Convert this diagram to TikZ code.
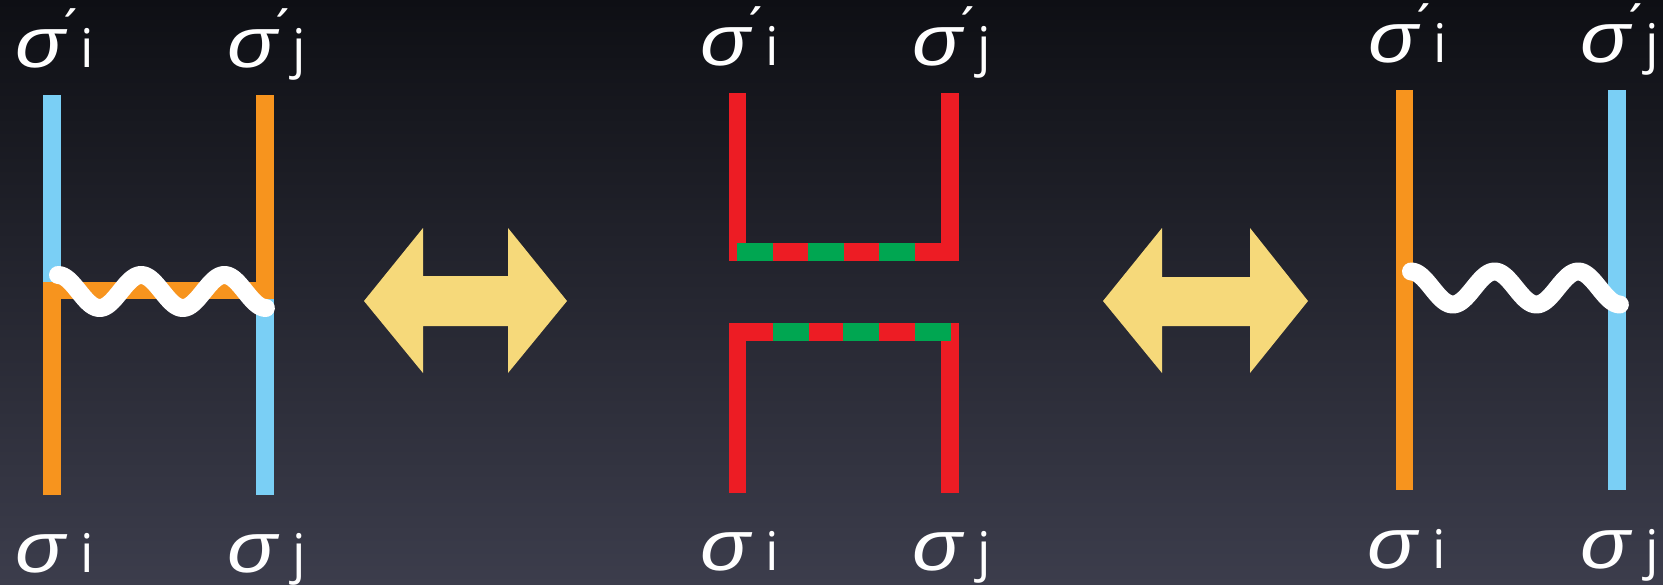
\documentclass[tikz,border=0pt]{standalone}
\usepackage{fontspec}
\setmainfont{Open Sans}
\newfontfamily\sgfont{Liberation Sans}
\definecolor{bgtop}{RGB}{14,15,20}
\definecolor{bgbot}{RGB}{60,61,76}
\definecolor{lblue}{RGB}{122,207,245}
\definecolor{lorange}{RGB}{247,148,30}
\definecolor{lred}{RGB}{237,28,36}
\definecolor{lgreen}{RGB}{0,166,81}
\definecolor{lyellow}{RGB}{246,217,122}
\newcommand{\sg}{\scalebox{1.15}[1]{\sgfont\fontsize{43pt}{43pt}\selectfont\itshape σ}}
\newcommand{\lbp}[1]{\rlap{\hspace*{24pt}\raisebox{11pt}{´}}\makebox[39pt][l]{\sg}#1}
\newcommand{\lbn}[1]{\makebox[39pt][l]{\sg}#1}
\tikzset{
  lab/.style={anchor=base west, inner sep=0pt, text=white, font=\fontsize{32pt}{32pt}\selectfont},
  bar/.style={line width=10.5pt, line cap=butt, line join=miter},
  wave/.style={white, line width=10.8pt, line cap=round, line join=round},
  dblarrow/.style={fill=lyellow},
  gdash/.style={fill=lgreen}
}
\begin{document}
\begin{tikzpicture}[x=0.6pt,y=-0.6pt]
\useasboundingbox (0,0) rectangle (1663,585);
\shade[top color=bgtop, bottom color=bgbot] (0,0) rectangle (1663,585);

% ---- panel 1
\draw[bar, lblue] (52,95) -- (52,282);
\draw[bar, lblue] (265,299) -- (265,495);
\draw[bar, lorange] (52,495) -- (52,290.5) -- (265,290.5) -- (265,95);
\draw[wave] plot[domain=0:2.5, samples=120, smooth] ({58+83.2*\x}, {291.5-16.5*cos(360*\x)});

\node[lab] (t1i) at (15,68) {\lbp{i}};
\node[lab] (t1j) at (227,68) {\lbp{j}};
\node[lab] (b1i) at (15,572) {\lbn{i}};
\node[lab] (b1j) at (227,572) {\lbn{j}};

% ---- arrow 1
\fill[dblarrow] (364,301) -- (423,228) -- (423,276) -- (508,276) -- (508,228) -- (567,301)
  -- (508,373) -- (508,326) -- (423,326) -- (423,373) -- cycle;

% ---- panel 2
\draw[bar, lred] (737.5,93) -- (737.5,252) -- (950,252) -- (950,93);
\draw[bar, lred] (737.5,493) -- (737.5,332) -- (950,332) -- (950,493);
\foreach \a in {737,808,879} \fill[gdash] (\a,243) rectangle (\a+35.5,261);
\foreach \a in {773,843,915} \fill[gdash] (\a,323) rectangle (\a+35.5,341);

\node[lab] (t2i) at (700,66) {\lbp{i}};
\node[lab] (t2j) at (912,66) {\lbp{j}};
\node[lab] (b2i) at (700,570) {\lbn{i}};
\node[lab] (b2j) at (912,570) {\lbn{j}};

% ---- arrow 2
\fill[dblarrow] (1103,301) -- (1162,228) -- (1162,277) -- (1250,277) -- (1250,228) -- (1308,301)
  -- (1250,373) -- (1250,326) -- (1162,326) -- (1162,373) -- cycle;

% ---- panel 3
\draw[bar, lorange] (1404.5,90) -- (1404.5,490);
\draw[bar, lblue] (1617,90) -- (1617,490);
\draw[wave] plot[domain=0:2.5, samples=120, smooth] ({1411+83.6*\x}, {288-16.5*cos(360*\x)});

\node[lab] (t3i) at (1368,63) {\lbp{i}};
\node[lab] (t3j) at (1580,63) {\lbp{j}};
\node[lab] (b3i) at (1367,568) {\lbn{i}};
\node[lab] (b3j) at (1580,568) {\lbn{j}};
\end{tikzpicture}
\end{document}
